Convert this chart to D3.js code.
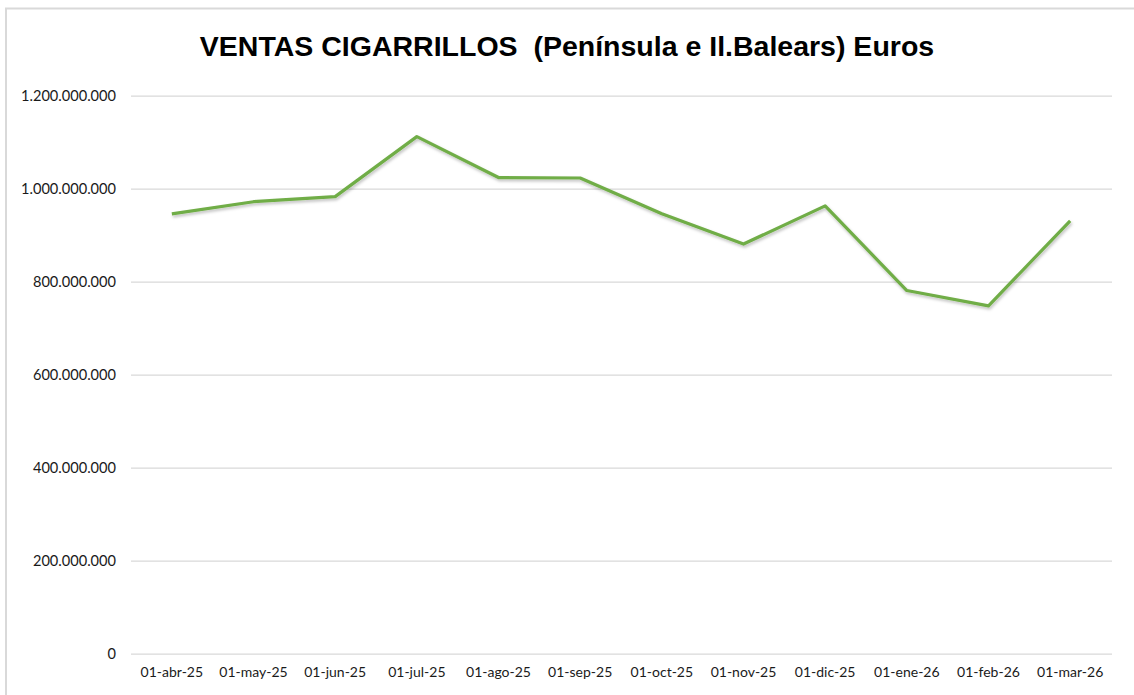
<!DOCTYPE html>
<html><head><meta charset="utf-8">
<script src="https://cdn.jsdelivr.net/npm/d3@7"></script>
<style>body{margin:0;background:#fff}svg{display:block}</style>
</head><body>
<svg id="c" width="1134" height="695"></svg>
<script>
const categories = ["01-abr-25","01-may-25","01-jun-25","01-jul-25","01-ago-25","01-sep-25","01-oct-25","01-nov-25","01-dic-25","01-ene-26","01-feb-26","01-mar-26"];
const ventas = [946000000,972000000,983000000,1112000000,1024000000,1023000000,946000000,881000000,963000000,781000000,748000000,931000000];
const yTicks = [0,200000000,400000000,600000000,800000000,1000000000,1200000000];
const title = "VENTAS CIGARRILLOS  (Península e Il.Balears) Euros";

const svg = d3.select("#c");
const W = 1134, H = 695;
const m = {left:131, right:1111, top:95.7, bottom:653.7};

svg.append("rect").attr("x",6).attr("y",8.5).attr("width",W).attr("height",H)
  .attr("fill","#fff").attr("stroke","#d9d9d9").attr("stroke-width",2);

const x = d3.scaleBand().domain(categories).range([m.left,m.right]);
const y = d3.scaleLinear().domain([0,1200000000]).range([m.bottom,m.top]);

const fmt = v => v===0 ? "0" : d3.format(",")(v).replace(/,/g,".");

const yAxis = d3.axisLeft(y).tickValues(yTicks).tickSize(-(m.right-m.left+1)).tickPadding(15).tickFormat(fmt);
const gy = svg.append("g").attr("transform",`translate(${m.left},0)`).call(yAxis);
gy.select(".domain").remove();
gy.selectAll(".tick line").attr("stroke","#d9d9d9").attr("stroke-width",1.3);
gy.selectAll(".tick text").attr("fill","#1a1a1a").style("font-family","Lato, 'Open Sans', sans-serif").style("font-size","14.6px");

const xAxis = d3.axisBottom(x).tickSize(0).tickPadding(13);
const gx = svg.append("g").attr("transform",`translate(0,${m.bottom})`).call(xAxis);
gx.select(".domain").remove();
gx.selectAll(".tick text").attr("fill","#1a1a1a").style("font-family","Lato, 'Open Sans', sans-serif").style("font-size","14px");

const defs = svg.append("defs");
const f = defs.append("filter").attr("id","sh").attr("x","-5%").attr("y","-5%").attr("width","110%").attr("height","120%");
f.append("feDropShadow").attr("dx",1).attr("dy",2).attr("stdDeviation",1.5).attr("flood-color","#000").attr("flood-opacity",0.25);

const line = d3.line().x((d,i)=>x(categories[i])+x.bandwidth()/2).y(d=>y(d));
svg.append("path").datum(ventas).attr("d",line).attr("fill","none")
  .attr("stroke","#70AD47").attr("stroke-width",3.2).attr("stroke-linejoin","round").attr("filter","url(#sh)");

svg.append("text").attr("x",567).attr("y",56).attr("text-anchor","middle")
  .style("white-space","pre")
  .style("font-family","'Liberation Sans', Arial, sans-serif").style("font-weight","bold").style("font-size","28.5px")
  .attr("fill","#000").text(title);
</script>
</body></html>
